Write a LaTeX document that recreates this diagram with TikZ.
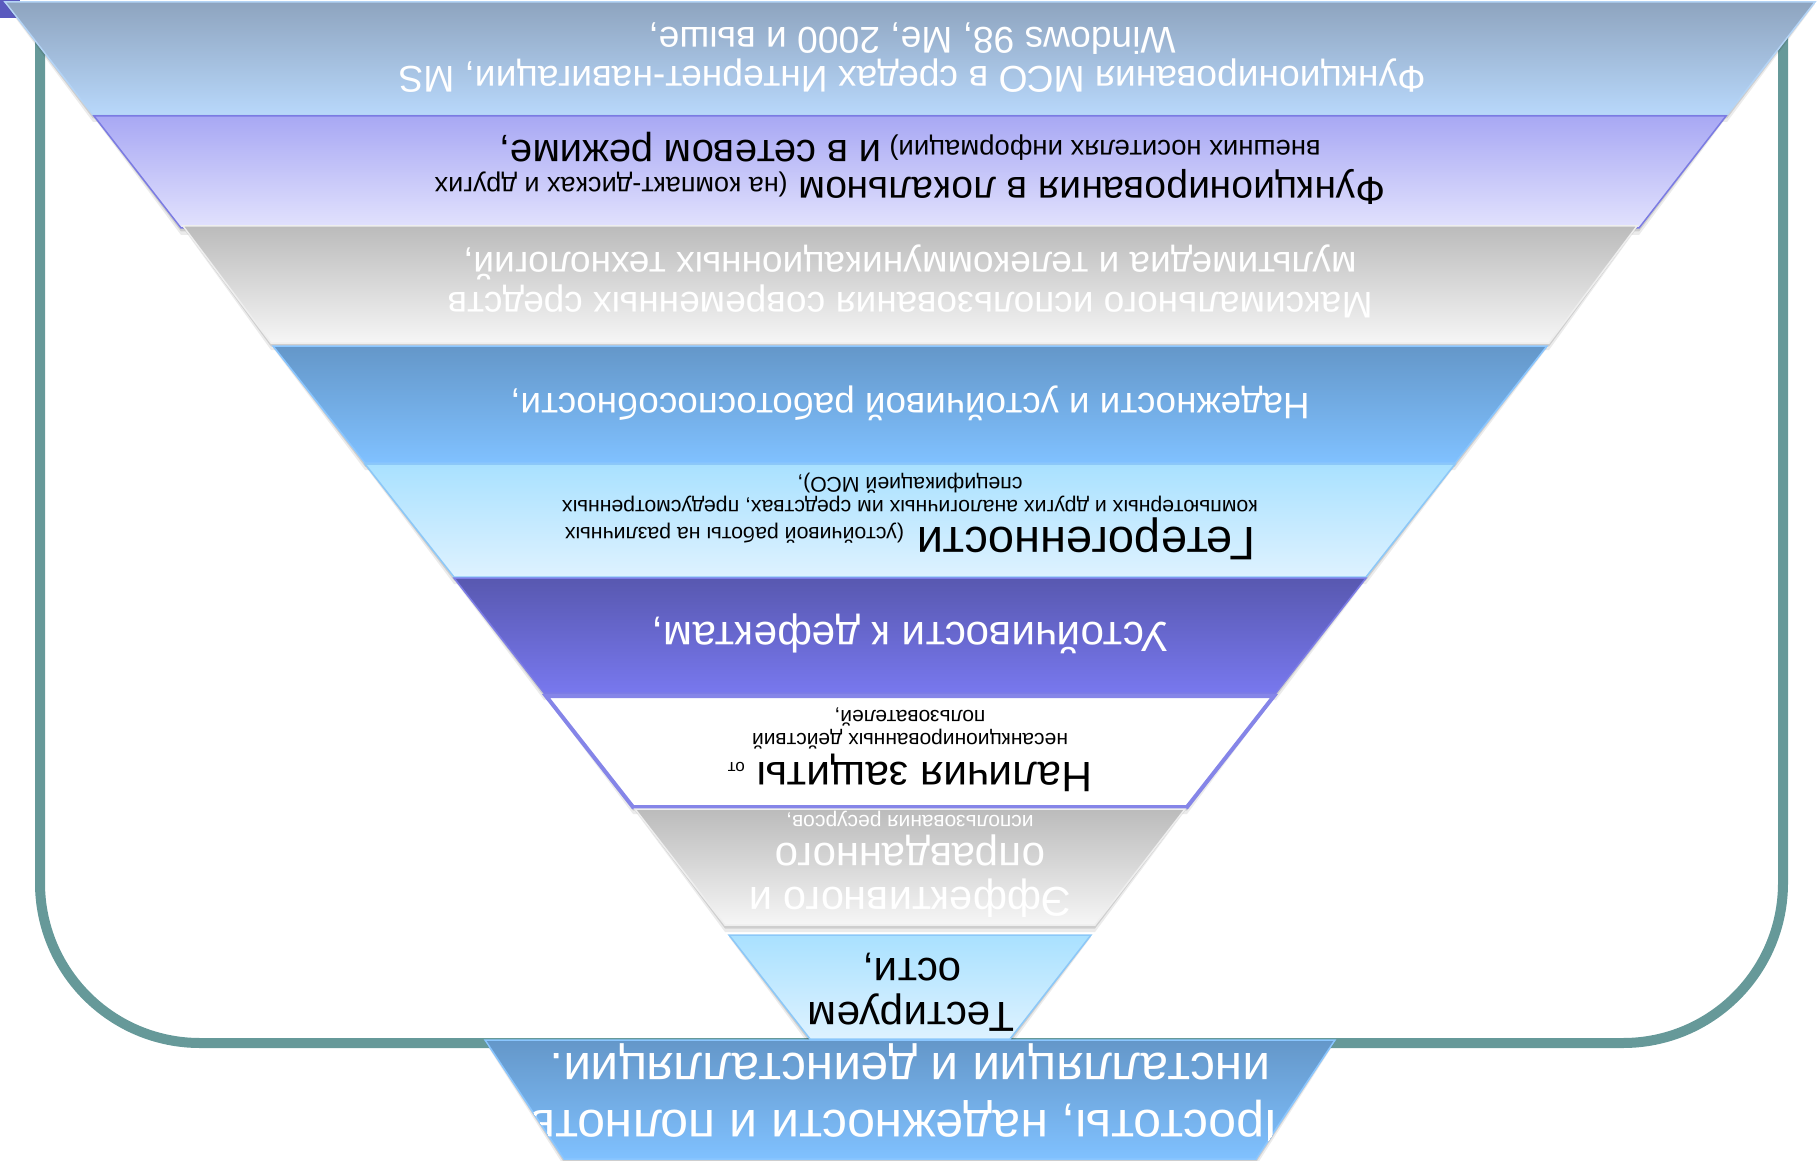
\documentclass[tikz,border=0pt]{standalone}
\usepackage{fontspec}
\setmainfont{Liberation Sans}
\definecolor{frameteal}{HTML}{669999}
\definecolor{cornerblue}{HTML}{5A5ABE}
\definecolor{aTop}{HTML}{8EA4BF}\definecolor{aBot}{HTML}{B8D8FB}\definecolor{aEdge}{HTML}{B4D4F6}
\definecolor{bTop}{HTML}{A8A8F4}\definecolor{bBot}{HTML}{E2E2FD}\definecolor{bEdge}{HTML}{7B7BE3}
\definecolor{gTop}{HTML}{BBBBBB}\definecolor{gBot}{HTML}{F6F6F6}\definecolor{gEdge}{HTML}{EEEEEE}
\definecolor{dTop}{HTML}{6497C9}\definecolor{dBot}{HTML}{80C1FF}\definecolor{dEdge}{HTML}{8AC6FF}
\definecolor{eTop}{HTML}{A9E1FF}\definecolor{eBot}{HTML}{DEF2FF}\definecolor{eEdge}{HTML}{8CC8F8}
\definecolor{fTop}{HTML}{5858B0}\definecolor{fBot}{HTML}{7878EE}\definecolor{fEdge}{HTML}{7C7CE6}
\definecolor{hEdge}{HTML}{8585E8}
\newcommand\fs[1]{\fontsize{#1}{#1}\selectfont}
\newcommand\funnellayer[5]{%
  \fill[black,opacity=0.08] ({910-#3},{#1+2}) -- ({910+#3},{#1+2}) -- ({910+#4},{#2+7}) -- ({910-#4},{#2+7}) -- cycle;
  \fill[black,opacity=0.12] ({910-#3},{#1+1}) -- ({910+#3},{#1+1}) -- ({910+#4},{#2+3.5}) -- ({910-#4},{#2+3.5}) -- cycle;
  \path[#5] ({910-#3},#1) -- ({910+#3},#1) -- ({910+#4},#2) -- ({910-#4},#2) -- cycle;}
\begin{document}
\begin{tikzpicture}[x=1pt,y=-1pt,
  txt/.style={rotate=180, inner sep=0pt, anchor=base},
  wtxt/.style={txt, text=white},
  btxt/.style={txt, text=black},
  frameline/.style={draw=frameteal, line width=10pt, rounded corners=160pt},
  layA/.style={top color=aTop, bottom color=aBot, draw=aEdge, line width=1.5pt},
  layB/.style={top color=bTop, bottom color=bBot, draw=bEdge, line width=1.5pt},
  layG/.style={top color=gTop, bottom color=gBot, draw=gEdge, line width=1.5pt},
  layD/.style={top color=dTop, bottom color=dBot, draw=dEdge, line width=1.5pt},
  layE/.style={top color=eTop, bottom color=eBot, draw=eEdge, line width=1.5pt},
  layF/.style={top color=fTop, bottom color=fBot, draw=fEdge, line width=1.5pt},
  layH/.style={fill=white, draw=hEdge, line width=4pt}]
\useasboundingbox (0,0) rectangle (1818,1161);
% frame
\draw[frameline] (40,10) -- (40,1043) -- (1783,1043) -- (1783,10);
\fill[cornerblue] (0,0) rectangle (20,18);
% funnel layers
\funnellayer{2}{115}{905}{817}{layA}
\funnellayer{116}{228}{816}{729}{layB}
\funnellayer{226}{343}{727}{639}{layG}
\funnellayer{346}{463}{637}{545}{layD}
\funnellayer{464}{577}{545}{456}{layE}
\funnellayer{578}{693}{456}{366}{layF}
\funnellayer{696}{807}{364}{277}{layH}
\funnellayer{809}{925}{275}{185}{layG}
\funnellayer{935}{1039}{181}{100}{layE}
\funnellayer{1040}{1159}{425}{346}{layD}
% texts
\node[wtxt] (t1a) at (912,67) {\fs{37.2}Функционирования МСО в средах Интернет-навигации, MS};
\node[wtxt] (t1b) at (912,28) {\fs{37.2}Windows 98, Me, 2000 и выше,};
\node[btxt] (t2a) at (910,178) {\fs{39}Функционирования в локальном \fs{27}(на компакт-дисках и других};
\node[btxt] (t2b) at (910,141) {\fs{27.5}внешних носителях информации) \fs{40}и в сетевом режиме,};
\node[wtxt] (t3a) at (910,292) {\fs{37}Максимального использования современных средств};
\node[wtxt] (t3b) at (910,253) {\fs{37}мультимедиа и телекоммуникационных технологий,};
\node[wtxt] (t4) at (910,393) {\fs{36.8}Надежности и устойчивой работоспособности,};
\node[btxt] (t5a) at (910,527) {\fs{47}Гетерогенности \fs{21.3}(устойчивой работы на различных};
\node[btxt] (t5b) at (910,500) {\fs{21.3}компьютерных и других аналогичных им средствах, предусмотренных};
\node[btxt] (t5c) at (910,477) {\fs{21.3}спецификацией МСО),};
\node[wtxt] (t6) at (910,622) {\fs{42.2}Устойчивости к дефектам,};
\node[btxt] (t7a) at (910,762) {\fs{42.5}Наличия защиты \fs{17}от};
\node[btxt] (t7b) at (910,733) {\fs{21}несанкционированных действий};
\node[btxt] (t7c) at (910,710) {\fs{21}пользователей,};
\node[wtxt] (t8a) at (910,887) {\fs{41.5}Эффективного и};
\node[wtxt] (t8b) at (910,843) {\fs{42}оправданного};
\node[wtxt] (t8c) at (910,815) {\fs{21}использования ресурсов,};
\node[btxt] (t9a) at (911,1002) {\fs{42}Тестируем};
\node[btxt] (t9b) at (912,958) {\fs{42}ости,};
\begin{scope}
  \clip (485,1040) -- (1335,1040) -- (1256,1159) -- (564,1159) -- cycle;
  \node[wtxt] (t10a) at (910,1110) {\fs{50}Простоты, надежности и полноты};
  \node[wtxt] (t10b) at (910,1053) {\fs{49.5}инсталляции и деинсталляции.};
\end{scope}
\end{tikzpicture}
\end{document}
